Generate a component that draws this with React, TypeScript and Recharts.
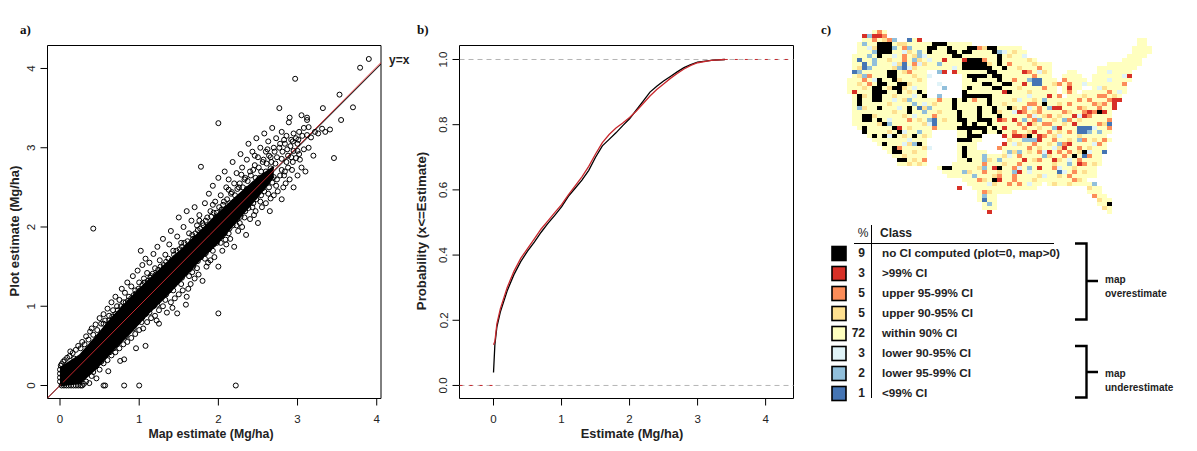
import { ComposedChart, ScatterChart, Scatter, Area, Line, XAxis, YAxis, ReferenceArea, ReferenceLine } from 'recharts'

// ---- panel a: individual circles that can be told apart
const upperPoints = [
  [0,.05],[0,.1],[0,.15],[0,.2],[.01,.25],[.02,.27],[.04,.3],[.06,.32],[.09,.35],[.12,.37],[.16,.41],[.2,.45],[.13,.43],[.18,.34],[.23,.5],[.26,.47],[.28,.55],[.31,.52],[.33,.62],[.36,.58],[.38,.68],[.4,.72],[.42,.64],[.45,.77],[.47,.7],[.5,.85],[.52,.78],[.55,.9],[.57,.82],[.6,.97],[.62,.88],[.65,1.05],[.67,.95],[.7,1.12],[.72,1.0],[.75,1.08],[.78,1.22],[.8,1.05],[.82,1.17],[.85,1.3],[.87,1.12],[.9,1.25],[.92,1.38],[.95,1.2],[.98,1.45],[1.0,1.3],[1.02,1.7],[1.04,1.52],[1.06,1.35],[1.08,1.6],[1.1,1.42],[1.13,1.55],[1.15,1.38],[1.18,1.66],[1.2,1.48],[1.23,1.75],[1.26,1.58],[1.28,1.42],[1.3,1.85],[1.33,1.65],[1.36,1.52],[1.38,1.78],[1.4,1.95],[1.43,1.7],[1.46,1.62],[1.48,1.88],[1.5,2.12],[1.53,1.8],[1.56,2.0],[1.58,1.72],[1.6,2.2],[1.63,1.92],[1.66,2.08],[1.68,1.85],[1.7,2.25],[1.73,2.02],[1.76,2.15],[1.78,2.76],[1.8,2.05],[1.83,2.3],[1.86,2.12],[1.88,2.42],[1.9,2.2],[1.93,2.52],[1.96,2.32],[1.98,2.18],[2.0,2.62],[2.0,3.31],[2.03,2.4],[2.06,2.28],[2.08,2.7],[2.1,2.5],[2.13,2.6],[2.16,2.42],[2.18,2.82],[2.2,2.55],[2.23,2.68],[2.26,2.5],[2.28,2.92],[2.3,2.75],[2.33,2.6],[2.36,2.85],[2.38,3.05],[2.4,2.7],[2.43,2.95],[2.46,2.78],[2.48,3.12],[2.5,2.88],[2.53,3.0],[2.56,2.82],[2.58,3.18],[2.6,2.95],[2.63,3.08],[2.66,2.88],[2.68,3.25],[2.7,3.0],[2.73,3.12],[2.77,3.5],[2.78,3.05],[2.8,3.2],[2.83,3.1],[2.86,3.15],[2.89,3.32],[2.9,3.38],[2.92,3.1],[2.95,3.18],[2.97,3.87],[3.0,3.05],[3.02,3.2],[3.05,3.41],[3.08,3.25],[3.12,3.38],[3.12,3.35],[3.14,3.26],[3.12,3.16],[3.17,3.13],[3.22,3.2],[3.26,3.18],[3.31,3.24],[3.35,3.2],[3.41,3.23],[3.32,3.5],[3.55,3.35],[3.53,3.67],[3.7,3.51],[3.79,4.01],[3.9,4.12],[.42,1.98],
]
const lowerPoints = [
  [.02,0],[.05,0],[.08,0],[.11,0],[.14,0],[.17,0],[.2,0],[.23,0],[.26,0],[.28,0],[.3,.02],[.33,.05],[.37,.03],[.55,0],[.57,0],[.81,0],[1.0,0],[2.22,0],[.4,.12],[.42,.17],[.46,.09],[.5,.2],[.55,.28],[.6,.32],[.61,.18],[.65,.38],[.7,.42],[.75,.47],[.76,.31],[.8,.52],[.81,.33],[.85,.55],[.9,.6],[.95,.65],[.96,.47],[1.0,.7],[1.05,.72],[1.08,.5],[1.1,.8],[1.15,.85],[1.2,.88],[1.25,.78],[1.25,.95],[1.3,1.0],[1.35,.92],[1.4,1.05],[1.45,1.1],[1.48,.91],[1.5,1.15],[1.55,1.2],[1.59,1.02],[1.6,1.12],[1.65,1.28],[1.7,1.35],[1.75,1.4],[1.8,1.32],[1.85,1.5],[1.9,1.58],[1.95,1.62],[2.0,.91],[2,1.5],[2.05,1.7],[2.1,1.78],[2.15,1.85],[2.2,1.75],[2.25,1.95],[2.3,2.0],[2.35,1.9],[2.4,2.1],[2.45,2.15],[2.5,2.05],[2.55,2.25],[2.6,2.3],[2.65,2.2],[2.7,2.4],[2.75,2.45],[2.8,2.35],[2.85,2.55],[2.9,2.6],[2.95,2.5],[3.0,2.65],[3.05,2.75],[3.1,2.7],[3.2,2.9],[3.46,2.87],[.52,.3],[.63,.42],[.72,.52],[.83,.62],[.93,.72],[1.03,.8],[1.13,.92],[1.23,1.02],[1.33,1.08],[1.43,1.2],[1.53,1.28],[1.63,1.38],[1.73,1.48],[1.83,1.6],[1.93,1.7],[2.03,1.8],[2.13,1.92],[2.23,2.02],[2.33,2.12],[2.43,2.25],[2.53,2.32],[2.63,2.42],[2.73,2.52],[2.83,2.65],[2.93,2.72],[3.03,2.85],
]
// circles close to the solid middle
const nearPoints = [
  [.55,.78],[.58,.72],[.62,.82],[.66,.87],[.7,.9],[.73,.95],[.77,1.0],[.8,.98],[.83,1.05],[.86,1.07],[.9,1.1],[.93,1.14],[.96,1.16],[.99,1.22],[1.01,1.2],[1.04,1.27],[1.07,1.3],[1.11,1.32],[1.14,1.36],[1.17,1.41],[1.21,1.4],[1.24,1.46],[1.27,1.5],[1.31,1.52],[1.34,1.56],[1.37,1.6],[1.41,1.58],[1.44,1.65],[1.47,1.7],[1.51,1.72],[1.54,1.75],[1.57,1.8],[1.61,1.82],[1.64,1.78],[1.67,1.9],[1.71,1.92],[1.74,1.96],[1.77,1.98],[1.81,2.02],[1.84,2.08],[1.87,2.0],[1.91,2.13],[1.94,2.18],[1.97,2.12],[2.01,2.25],[2.04,2.22],[2.07,2.32],[2.11,2.35],[2.14,2.3],[2.17,2.44],[2.21,2.4],[2.24,2.48],[2.27,2.55],[2.31,2.5],[2.34,2.62],[2.37,2.58],[2.41,2.65],[2.44,2.72],[2.47,2.62],[2.51,2.75],[2.54,2.7],[2.57,2.85],[2.61,2.8],[2.64,2.9],[2.67,2.82],[2.71,2.95],[2.74,2.88],[2.77,3.0],[2.81,2.95],[2.84,3.05],[2.87,2.98],[2.91,3.02],[2.94,3.08],[2.98,3.12],[3.01,3.1],[3.06,3.15],
  [.58,.38],[.62,.45],[.68,.47],[.74,.55],[.78,.6],[.84,.67],[.88,.7],[.94,.78],[.98,.8],[1.04,.86],[1.08,.9],[1.14,.97],[1.18,1.0],[1.24,1.07],[1.28,1.12],[1.34,1.15],[1.38,1.2],[1.44,1.27],[1.48,1.32],[1.54,1.36],[1.58,1.42],[1.64,1.47],[1.68,1.5],[1.74,1.57],[1.78,1.62],[1.84,1.67],[1.88,1.72],[1.94,1.78],[1.98,1.8],[2.04,1.88],[2.08,1.92],[2.14,1.98],[2.18,2.02],[2.24,2.1],[2.28,2.13],[2.34,2.2],[2.38,2.24],[2.44,2.3],[2.48,2.35],[2.54,2.4],[2.58,2.45],[2.64,2.5],[2.68,2.56],[2.74,2.6],[2.78,2.65],[2.84,2.7],[2.88,2.75],[2.94,2.82],[2.98,2.87],[3.02,2.92],[3.08,2.98],[3.14,3.0],
  [.9,1.02],[1.12,1.24],[1.3,1.44],[1.49,1.62],[1.6,1.73],[1.72,1.83],[1.86,1.93],[1.95,2.05],[2.02,2.12],[2.12,2.22],[2.2,2.32],[2.3,2.4],[2.36,2.48],[2.45,2.54],[2.52,2.62],[2.6,2.7],[2.66,2.74],[2.72,2.8],[2.8,2.86],[2.88,2.9],[2.95,2.96],[.92,.84],[1.2,1.12],[1.4,1.3],[1.55,1.46],[1.7,1.6],[1.82,1.72],[1.92,1.84],[2.06,1.97],[2.16,2.08],[2.26,2.18],[2.35,2.28],[2.46,2.38],[2.56,2.49],[2.62,2.56],[2.7,2.63],[2.8,2.72],[2.86,2.82],[2.92,2.88],[3.0,2.96],[1.76,2.08],[1.93,2.28],[2.13,2.47],[2.29,2.66],[2.46,2.9],[2.62,2.98],[1.67,1.43],[1.87,1.55],[2.09,1.84],[2.27,2.05],[2.47,2.2],[2.66,2.36],[2.82,2.5],[1.22,.82],[1.42,.98],[1.62,1.22],
]
// solid black middle of the cloud, lower and upper edge, where single circles can't be read
const coreX = [0, .25, .46, .67, .88, 1.09, 1.3, 1.5, 1.75, 2, 2.25, 2.5, 2.7]
const coreLow = [0, .03, .22, .45, .66, .89, 1.09, 1.3, 1.57, 1.81, 2.1, 2.39, 2.64]
const coreHigh = [.22, .38, .62, .87, 1.09, 1.3, 1.5, 1.68, 1.92, 2.17, 2.4, 2.62, 2.76]
const identityX = [-0.16, 4.06]
const fitY = [-0.16, 4.08]

// ---- panel b
const ecdfX = [0, .02, .05, .1, .2, .3, .4, .5, .6, .7, .8, .9, 1, 1.1, 1.2, 1.3, 1.4, 1.5, 1.6, 1.7, 1.8, 1.9, 2, 2.1, 2.2, 2.3, 2.4, 2.5, 2.6, 2.7, 2.8, 2.9, 3, 3.2, 3.4]
const plotCdf = [.04, .125, .18, .225, .29, .34, .38, .412, .44, .47, .497, .522, .548, .58, .605, .63, .66, .7, .735, .755, .775, .797, .818, .845, .872, .9, .918, .934, .948, .962, .975, .984, .992, .997, 1]
const mapCdf = [.125, .135, .19, .235, .3, .35, .39, .42, .45, .48, .505, .53, .555, .585, .612, .64, .672, .71, .745, .77, .79, .805, .822, .842, .865, .888, .908, .925, .942, .957, .971, .982, .99, .997, 1]

// ---- panel c: cells of the map raster, column ranges per row
const landSpans: number[][][] = [
  [[5,7]],[[3,3],[5,7]],[[3,8],[12,13],[58,59]],[[2,15],[16,24],[58,59]],[[2,34],[57,60]],[[2,35],[57,60]],[[1,35],[56,59]],[[1,37],[55,58]],
  [[1,40],[52,58]],[[1,40],[50,57]],[[1,15],[22,40],[44,45],[50,56]],[[1,15],[23,40],[43,46],[49,56]],[[0,15],[23,41],[43,47],[49,56]],[[0,15],[23,40],[43,46],[48,55]],[[0,15],[23,41],[43,46],[49,55]],[[0,15],[23,41],[43,45],[47,55]],
  [[1,15],[23,41],[44,54]],[[1,54]],[[1,53]],[[1,53]],[[1,52]],[[1,52]],[[1,52]],[[1,52]],
  [[2,52]],[[3,16],[22,52]],[[4,16],[22,26],[31,51]],[[5,15],[22,26],[32,52]],[[6,15],[22,25],[31,51]],[[7,15],[22,25],[31,51]],[[8,15],[22,27],[31,51]],[[9,15],[22,50]],
  [[10,15],[22,50]],[[10,15],[21,50]],[[18,49]],[[19,49]],[[20,49]],[[23,47]],[[24,38],[40,49]],[[25,37],[48,50]],
  [[26,32],[48,50]],[[26,29],[49,51]],[[26,29],[50,52]],[[27,29],[50,52]],[[27,29],[51,52]],[[28,28],[52,52]],
]
// class cells: row -> columns
const noCiCells: Record<number, number[]> = {
  3:[6,7,8,17,18,19],4:[6,7,8,16,17,20,24,25,28,29],5:[6,7,8,16,20,21,23,24,29],6:[6,21,22,30],7:[24,25,26,30],8:[23,24,25,26,27,30],9:[23,24,25,26,27,28,31],
  10:[8,9,28,29],11:[8,9,24,25,26,27,29,30],12:[6,9,25,30],13:[6,7,10,11,27,28,31,32],14:[5,6,9,10,24,29,30],15:[5,6,7,10,14,23,32],16:[2,5,6,15,23,24,25,26,27,28],17:[2,5,6,21,23,28],
  18:[2,21,28,39],19:[6,12,21,26,29,32],20:[12,22,26,29,50],21:[3,4,22,26,30],22:[3,4,6,22,23,26,27,28],23:[7,23,25,28],24:[3,9,22,23,24,25,26,27,29],25:[3,10,24,27,30],
  26:[5,7,9,13,24,25,26,36],27:[22,23,24],28:[7,14],29:[9,23],30:[9,10,23,47],31:[23,45],32:[10,11,24],34:[19,20,30],37:[29],43:[52],
}
const above99Cells: Record<number, number[]> = {
  1:[3,5,6],3:[6],2:[14],7:[19,23],10:[19,21,35],11:[56],13:[35],14:[44],15:[1,31],16:[40],17:[53,54],18:[53],19:[41,42,53],20:[34,48,51],21:[45,47],22:[30,33],23:[36,45],24:[10,31,42],25:[37],26:[31,33,34,38],
  29:[43],30:[10,40],32:[41,35],33:[46],34:[29,30,20,38],37:[30],39:[22],45:[28],27:[38],35:[34],28:[44,31],
}
const upper95Cells: Record<number, number[]> = {
  0:[6],1:[7],2:[5,8],4:[11,26],5:[30,6],6:[30,11],7:[11,27,26],8:[13,32],9:[31,38],10:[9,12,36],11:[4,37],12:[3,33,43],13:[4,42,44,55],14:[39],15:[1,44,52],16:[42,51,50],17:[18,25,46,48,52],18:[36,37,44,49,51],19:[35,46,38,50],
  20:[35,38,43,47,49],21:[17,36,40,47,48],22:[12,31,37,44,52],23:[34,40,39,50],24:[17,35,41,52],25:[33,40,44],26:[35,39],27:[41,47,51],28:[37,43,50],29:[10,30,36,46],30:[38,44,42],31:[34,43,48],32:[15,35,38,46],33:[27,34,47,44],34:[33,41],35:[27,45],36:[30,33,44],37:[26,33,45],38:[32,34],40:[27],41:[49],
}
const upper90Cells: Record<number, number[]> = {
  2:[7],3:[10,11],4:[5,12,27],5:[12,33],6:[4,13,32],7:[8,14,36],8:[5,10,15,28,37],9:[2,9,13,34],10:[11,39],11:[13,2],12:[10,14,38],13:[2,12,41],14:[3,8,11,34,51],15:[12,36],16:[3,9,18,47,53],17:[11,33,37],18:[8,17,31,42,50],
  19:[3,15,33,41,47],20:[9,18,30,37,44],21:[5,11,39,42],22:[14,19,41,46],23:[6,15,37,43,51],24:[12,38,46],25:[8,14,36,42,50],26:[11,15,41,46],27:[32,44,49],28:[12,34,40],29:[15,38,42,48],30:[13,33,36,46],31:[11,31,40,47],32:[13,28,37,42],
  33:[14,12,31,41,49],34:[26,36,45],35:[24,30,47],36:[29,38,42],37:[27,37,46],38:[29,41,44],39:[48],40:[28],42:[50],44:[51],
}
const lower90Cells: Record<number, number[]> = {
  3:[10],4:[4],5:[11,14,31],6:[9,15,35],7:[5,16],8:[9,14],9:[12,21],10:[38,52],11:[2,16,55],12:[5,52],13:[18,47],14:[13,50],15:[6,54],16:[13,36],17:[9,34],18:[15,50],19:[10,36,41],20:[12,33,44],21:[13,37,46],22:[8,38],
  23:[16,39],24:[49],25:[11,37],26:[8,42],27:[12,47],28:[11,33,49],29:[16,41],30:[39,48],31:[32,45],32:[37,44],33:[31],34:[34,42],35:[36,43],36:[39],38:[28,36],
}
const lower95Cells: Record<number, number[]> = {
  1:[4],2:[9],3:[3],4:[12,9],5:[5,14,30],6:[4,14],7:[5,13],8:[5,18],9:[4,10],10:[2,18],11:[3],12:[36],14:[19],16:[18],17:[12,39],18:[13],19:[2,16,40],20:[15],21:[47],22:[16,35,38,43],23:[8,36],
  24:[41],25:[14,48,50],27:[35,36,37,46],28:[13,42],30:[32,34],31:[27,39],32:[30,27],33:[44],34:[27,36],35:[23,33],36:[25],38:[49],41:[27],43:[28],
}
const below99Cells: Record<number, number[]> = {
  2:[12],7:[2],8:[3,11],9:[3,11],10:[1],12:[37,38],13:[37,38],19:[14],22:[17],23:[17,52],24:[46,47,48],25:[46,47],30:[47,51],31:[47],35:[42],42:[27],
}
const classLayers = [
  { cells: lower90Cells, fill: '#e0f3f8' },
  { cells: upper90Cells, fill: '#fee090' },
  { cells: upper95Cells, fill: '#fc8d59' },
  { cells: lower95Cells, fill: '#91bfdb' },
  { cells: below99Cells, fill: '#4575b4' },
  { cells: above99Cells, fill: '#d73027' },
  { cells: noCiCells, fill: '#000000' },
]

// ---- legend table
const classShares = ['9', '3', '5', '5', '72', '3', '2', '1']
const classNames = ['no CI computed (plot=0, map>0)', '>99% CI', 'upper 95-99% CI', 'upper 90-95% CI', 'within 90% CI', 'lower 90-95% CI', 'lower 95-99% CI', '<99% CI']
const classColors = ['#000000', '#d73027', '#fc8d59', '#fee090', '#ffffbf', '#e0f3f8', '#91bfdb', '#4575b4']

const axisFont = '"Liberation Sans", Arial, sans-serif'

const toXY = (p: number[]) => ({ x: p[0], y: p[1] })
const coreData = coreX.map((x, i) => ({ x, band: [coreLow[i], coreHigh[i]] }))
const identityData = identityX.map(x => ({ x, y: x }))
const fitData = identityX.map((x, i) => ({ x, y: fitY[i] }))
const plotCdfData = ecdfX.map((x, i) => ({ x, y: plotCdf[i] }))
const mapCdfData = ecdfX.map((x, i) => ({ x, y: mapCdf[i] }))

const expandSpans = () => {
  const out: { col: number; row: number }[] = []
  landSpans.forEach((spans, row) => spans.forEach(([a, b]) => {
    for (let c = a; c <= b; c++) out.push({ col: c + 0.5, row: row + 0.5 })
  }))
  return out
}
const expandCells = (cells: Record<number, number[]>) =>
  Object.entries(cells).flatMap(([row, cols]) => cols.map(col => ({ col: col + 0.5, row: Number(row) + 0.5 })))

const Ring = (props: any) => <circle cx={props.cx} cy={props.cy} r={2.5} fill="none" stroke="#000" strokeWidth={1} />

const cellShape = (fill: string) => (props: any) =>
  <rect x={props.cx - 2.5} y={props.cy - 2} width={5} height={4} fill={fill} />

const yTick = (digits: number) => (props: any) => (
  <text
    transform={`rotate(-90 ${props.x - 7} ${props.y})`}
    x={props.x - 7} y={props.y}
    textAnchor="middle" dominantBaseline="central"
    fontFamily={axisFont} fontSize={11.5} fill="#222"
  >
    {Number(props.payload.value).toFixed(digits)}
  </text>
)
const xTickStyle = { fontFamily: axisFont, fontSize: 11.5, fill: '#222' }

function ScatterPanel() {
  return (
    <ComposedChart width={400} height={451} margin={{ top: 45.5, right: 19, bottom: 0, left: 0 }}
      style={{ position: 'absolute', left: 0, top: 0 }}>
      <XAxis type="number" dataKey="x" domain={[-0.158, 4.054]} ticks={[0, 1, 2, 3, 4]} allowDataOverflow
        axisLine={false} tickSize={7} tickLine={{ stroke: '#000' }} tick={xTickStyle} tickMargin={9} height={52.5} />
      <YAxis type="number" dataKey="y" domain={[-0.164, 4.29]} ticks={[0, 1, 2, 3, 4]} allowDataOverflow
        axisLine={false} tickSize={7} tickLine={{ stroke: '#000' }} tick={yTick(0)} width={47.5} />
      <Area data={coreData} dataKey="band" stroke="#000" strokeWidth={2} fill="#000" fillOpacity={1} dot={false} activeDot={false} isAnimationActive={false} />
      <Scatter data={nearPoints.map(toXY)} shape={Ring} isAnimationActive={false} />
      <Scatter data={upperPoints.map(toXY)} shape={Ring} isAnimationActive={false} />
      <Scatter data={lowerPoints.map(toXY)} shape={Ring} isAnimationActive={false} />
      <Line data={identityData} dataKey="y" stroke="#000" strokeWidth={1} dot={false} isAnimationActive={false} />
      <Line data={fitData} dataKey="y" stroke="#c8282d" strokeWidth={1} dot={false} isAnimationActive={false} />
      <ReferenceArea x1={-0.158} x2={4.054} y1={-0.164} y2={4.29} fill="none" stroke="#000" strokeWidth={1} ifOverflow="visible" />
    </ComposedChart>
  )
}

function CdfPanel() {
  return (
    <ComposedChart width={400} height={451} margin={{ top: 45.5, right: 6.5, bottom: 0, left: 0 }}
      style={{ position: 'absolute', left: 400, top: 0 }}>
      <XAxis type="number" dataKey="x" domain={[-0.5, 4.41]} ticks={[0, 1, 2, 3, 4]} allowDataOverflow
        axisLine={false} tickSize={7} tickLine={{ stroke: '#000' }} tick={xTickStyle} tickMargin={9} height={52.5} />
      <YAxis type="number" dataKey="y" domain={[-0.04, 1.0429]} ticks={[0, .2, .4, .6, .8, 1]} allowDataOverflow
        axisLine={false} tickSize={7} tickLine={{ stroke: '#000' }} tick={yTick(1)} width={59.5} />
      <ReferenceLine y={0} stroke="#b5b5b5" strokeDasharray="5 4" />
      <ReferenceLine y={1} stroke="#b5b5b5" strokeDasharray="5 4" />
      <Line data={[{ x: -0.5, y: 0 }, { x: 0, y: 0 }]} dataKey="y" stroke="#c8282d" strokeDasharray="3 7" dot={false} isAnimationActive={false} />
      <Line data={[{ x: 3.4, y: 1 }, { x: 4.41, y: 1 }]} dataKey="y" stroke="#c8282d" strokeDasharray="3 7" dot={false} isAnimationActive={false} />
      <Line data={plotCdfData} dataKey="y" stroke="#000" strokeWidth={1.3} dot={false} isAnimationActive={false} />
      <Line data={mapCdfData} dataKey="y" stroke="#c8282d" strokeWidth={1.3} dot={false} isAnimationActive={false} />
      <ReferenceArea x1={-0.5} x2={4.41} y1={-0.04} y2={1.0429} fill="none" stroke="#000" strokeWidth={1} ifOverflow="visible" />
    </ComposedChart>
  )
}

function MapPanel() {
  return (
    <ScatterChart width={305} height={184} margin={{ top: 0, right: 0, bottom: 0, left: 0 }}
      style={{ position: 'absolute', left: 847, top: 30, filter: 'blur(0.4px)' }}>
      <XAxis type="number" dataKey="col" domain={[0, 61]} hide />
      <YAxis type="number" dataKey="row" domain={[0, 46]} reversed hide />
      <Scatter data={expandSpans()} shape={cellShape('#ffffbf')} isAnimationActive={false} />
      {classLayers.map(l => (
        <Scatter key={l.fill} data={expandCells(l.cells)} shape={cellShape(l.fill)} isAnimationActive={false} />
      ))}
    </ScatterChart>
  )
}

function Overlay() {
  const bold = { fontFamily: axisFont, fontWeight: 700, fill: '#222' }
  const rowY = (i: number) => 253 + i * 20
  return (
    <svg width={1197} height={451} style={{ position: 'absolute', left: 0, top: 0, pointerEvents: 'none' }}>
      <g fontFamily='"Liberation Serif", serif' fontWeight={700} fontSize={13} fill="#111">
        <text x={20} y={34}>a)</text>
        <text x={417} y={34}>b)</text>
        <text x={821} y={34}>c)</text>
      </g>
      <text x={211} y={438} textAnchor="middle" fontSize={12.3} {...bold}>Map estimate (Mg/ha)</text>
      <text x={632} y={438} textAnchor="middle" fontSize={12.8} {...bold}>Estimate (Mg/ha)</text>
      <text transform="rotate(-90 19 231)" x={19} y={231} textAnchor="middle" fontSize={13} {...bold}>Plot estimate (Mg/ha)</text>
      <text transform="rotate(-90 426 231)" x={426} y={231} textAnchor="middle" fontSize={13.2} {...bold}>Probability (x&lt;=Estimate)</text>
      <text x={389} y={64} fontSize={12} {...bold}>y=x</text>

      <text x={863} y={237} textAnchor="middle" fontSize={12} fontFamily={axisFont} fill="#222">%</text>
      <text x={880} y={237} fontSize={12} {...bold}>Class</text>
      <line x1={871.5} x2={871.5} y1={225} y2={398} stroke="#000" />
      <line x1={854} x2={1054} y1={243.5} y2={243.5} stroke="#000" />
      {classNames.map((name, i) => (
        <g key={name}>
          <rect x={832} y={246.5 + i * 20} width={14} height={14} fill={classColors[i]} stroke="#000" strokeWidth={1.6} />
          <text x={865} y={rowY(i) + 4} textAnchor="end" fontSize={12} {...bold}>{classShares[i]}</text>
          <text x={882} y={rowY(i) + 3.5} fontSize={11.7} {...bold}>{name}</text>
        </g>
      ))}
      <path d="M1075 243.5 H1086.5 V319.5 H1075 M1086.5 281 H1098" fill="none" stroke="#000" strokeWidth={2.4} />
      <path d="M1075 346 H1086.5 V397.5 H1075 M1086.5 372 H1098" fill="none" stroke="#000" strokeWidth={2.4} />
      <text x={1105} y={283} fontSize={10} {...bold}>map</text>
      <text x={1105} y={297} fontSize={10} {...bold}>overestimate</text>
      <text x={1105} y={377} fontSize={10} {...bold}>map</text>
      <text x={1105} y={391} fontSize={10} {...bold}>underestimate</text>
    </svg>
  )
}

export default function App() {
  return (
    <div style={{ position: 'absolute', left: 0, top: 0, width: 1197, height: 451, background: '#fff', overflow: 'hidden' }}>
      <ScatterPanel />
      <CdfPanel />
      <MapPanel />
      <Overlay />
    </div>
  )
}
